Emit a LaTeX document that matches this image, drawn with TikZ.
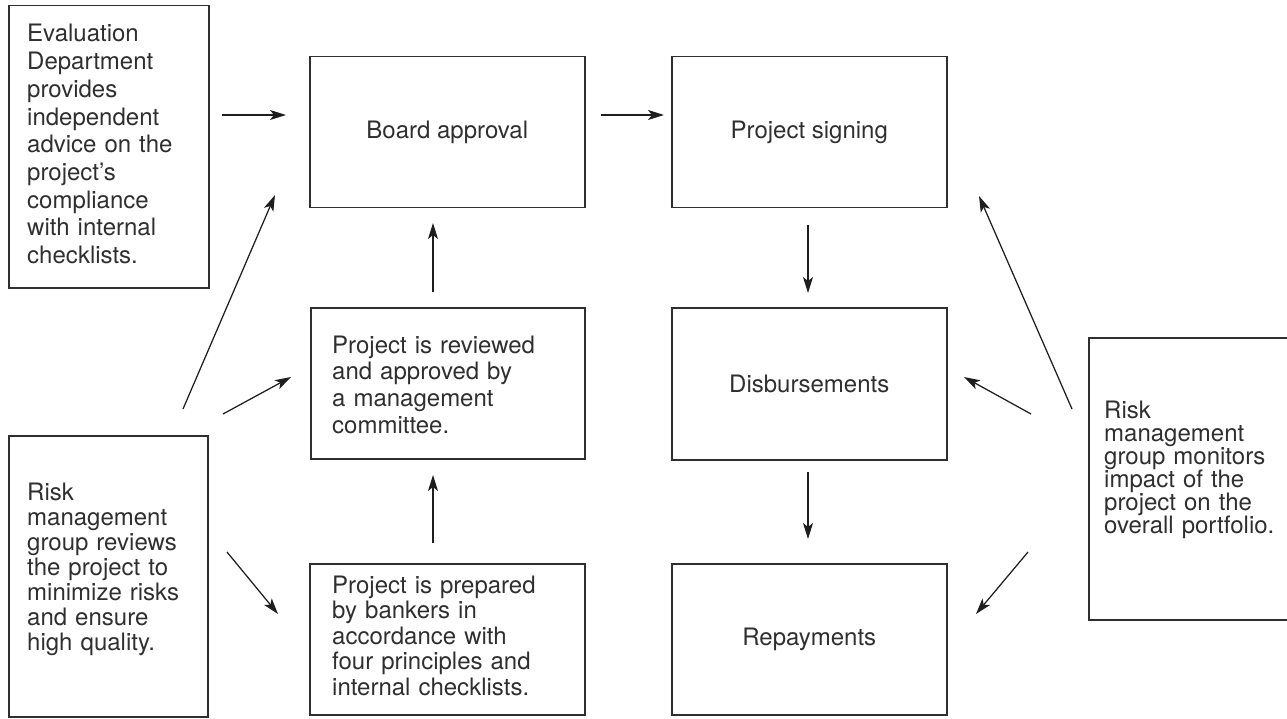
\documentclass[tikz,border=0pt]{standalone}
\usepackage{fontspec}
\setmainfont{TeX Gyre Heros}
\usetikzlibrary{arrows.meta}
\definecolor{ink}{HTML}{2F2F2F}
\definecolor{lineink}{HTML}{1E1E1E}
\begin{document}
\begin{tikzpicture}[x=1pt,y=-1pt,
  box/.style={draw=ink, line width=1.5pt, inner sep=0pt, anchor=north west,
    text=ink, font=\fontsize{24}{28}\selectfont},
  txt/.style={text=ink, inner sep=0pt, anchor=base west, align=left, text width=#1},
  arr/.style={draw=lineink, line width=1.25pt, -{Stealth[length=16pt,width=10pt,inset=4pt]}}]
\useasboundingbox (0,0) rectangle (1287,719);
% boxes
\node[box, minimum width=200pt, minimum height=282pt] (eval) at (8,5) {};
\node[box, minimum width=275pt, minimum height=151pt] (board) at (309,56) {Board approval};
\node[box, minimum width=275pt, minimum height=151pt] (sign) at (671,56) {Project signing};
\node[box, minimum width=274pt, minimum height=151pt] (review) at (310,307) {};
\node[box, minimum width=275pt, minimum height=152pt] (disb) at (671,307) {Disbursements};
\node[box, minimum width=199pt, minimum height=281pt] (riskL) at (8,435) {};
\node[box, minimum width=275pt, minimum height=151pt] (prep) at (309,563) {};
\node[box, minimum width=275pt, minimum height=151pt] (repay) at (671,563) {Repayments};
\node[box, minimum width=215pt, minimum height=282pt] (riskR) at (1088,337) {};
% texts
\node[txt=185pt, font=\fontsize{24}{27.7}\selectfont] (evalT) at (27,42)
  {Evaluation\\Department\\provides\\independent\\advice on the\\project’s\\compliance\\with internal\\checklists.};
\node[txt=185pt, font=\fontsize{24}{25}\selectfont] (riskLT) at (27,500)
  {Risk\\management\\group reviews\\the project to\\minimize risks\\and ensure\\high quality.};
\node[txt=195pt, font=\fontsize{24}{23}\selectfont] (riskRT) at (1104,418)
  {Risk\\management\\group monitors\\impact of the\\project on the\\overall portfolio.};
\node[txt=250pt, font=\fontsize{24}{26.7}\selectfont] (reviewT) at (332,353)
  {Project is reviewed\\and approved by\\a management\\committee.};
\node[txt=250pt, font=\fontsize{24}{25.5}\selectfont] (prepT) at (332,593)
  {Project is prepared\\by bankers in\\accordance with\\four principles and\\internal checklists.};
% arrow end points
\coordinate (e2bS) at (222,115);  \coordinate (e2bE) at (286,115);
\coordinate (b2sS) at (601,115);  \coordinate (b2sE) at (664,115);
\coordinate (r2bS) at (433,292);  \coordinate (r2bE) at (433,223);
\coordinate (p2rS) at (433,543);  \coordinate (p2rE) at (433,475);
\coordinate (s2dS) at (808,225);  \coordinate (s2dE) at (808,293);
\coordinate (d2pS) at (808,472);  \coordinate (d2pE) at (808,539);
\coordinate (lbS) at (183,409);   \coordinate (lbE) at (275,195);
\coordinate (lrS) at (223,414);   \coordinate (lrE) at (291,377);
\coordinate (lpS) at (227,552);   \coordinate (lpE) at (278,614);
\coordinate (rdS) at (1031,414);  \coordinate (rdE) at (964,377);
\coordinate (rsS) at (1072,409);  \coordinate (rsE) at (979,196);
\coordinate (rpS) at (1028,552);  \coordinate (rpE) at (976,614);
% arrows
\draw[arr] (e2bS) -- (e2bE);
\draw[arr] (b2sS) -- (b2sE);
\draw[arr] (r2bS) -- (r2bE);
\draw[arr] (p2rS) -- (p2rE);
\draw[arr] (s2dS) -- (s2dE);
\draw[arr] (d2pS) -- (d2pE);
\draw[arr] (lbS) -- (lbE);
\draw[arr] (lrS) -- (lrE);
\draw[arr] (lpS) -- (lpE);
\draw[arr] (rdS) -- (rdE);
\draw[arr] (rsS) -- (rsE);
\draw[arr] (rpS) -- (rpE);
\end{tikzpicture}
\end{document}
